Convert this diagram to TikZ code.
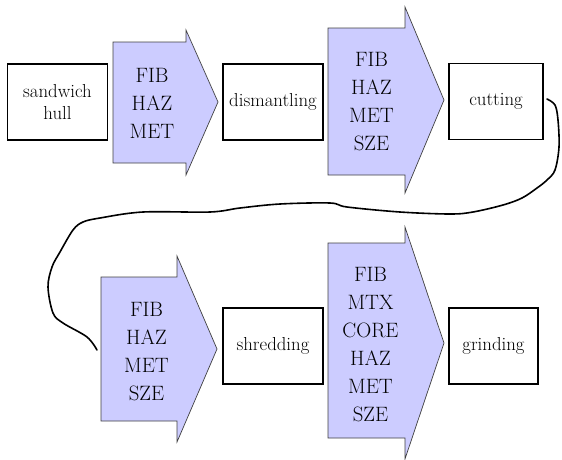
\documentclass[tikz,border=0pt]{standalone}
\usepackage{fix-cm}
\begin{document}
\begin{tikzpicture}[x=1pt,y=-1pt,
  procbox/.style={draw=black,line width=1.3pt,inner sep=0pt,font=\fontsize{18.8}{22.5}\selectfont,align=center,minimum height=76pt},
  flowarrow/.style={fill={rgb,255:red,204;green,204;blue,255},draw=black!75,line width=0.7pt,line join=miter},
  flowlabel/.style={font=\fontsize{20.8}{28}\selectfont,align=center,inner sep=0pt},
  loopline/.style={line width=1.6pt,line cap=round,line join=round}]
\useasboundingbox (0,0) rectangle (562,459);
% boxes
\node[procbox,minimum width=100pt] (hull) at (57.5,102) {sandwich\\hull};
\node[procbox,minimum width=100pt] (dism) at (273,102) {dismantling};
\node[procbox,minimum width=94pt] (cut) at (496,101.5) {cutting};
\node[procbox,minimum width=100pt] (shred) at (273,346) {shredding};
\node[procbox,minimum width=89pt] (grind) at (493.5,346) {grinding};
% arrows
\draw[flowarrow] (113,42) -- (186,42) -- (186,30) -- (218,102) -- (186,175) -- (186,163) -- (113,163) -- cycle;
\node[flowlabel] (a1) at (152,103) {FIB\\HAZ\\MET};
\draw[flowarrow] (328,28) -- (405,28) -- (405,7) -- (444,100) -- (405,193) -- (405,175) -- (328,175) -- cycle;
\node[flowlabel] (a2) at (371.5,102) {FIB\\HAZ\\MET\\SZE};
\draw[flowarrow] (101,277) -- (177,277) -- (177,256) -- (217,349) -- (177,442) -- (177,421) -- (101,421) -- cycle;
\node[flowlabel] (a3) at (146.5,351.5) {FIB\\HAZ\\MET\\SZE};
\draw[flowarrow] (328,243) -- (405,243) -- (405,227) -- (444,343) -- (405,459) -- (405,438) -- (328,438) -- cycle;
\node[flowlabel] (a4) at (370.5,345) {FIB\\MTX\\CORE\\HAZ\\MET\\SZE};
% loop connector
\coordinate (ls) at (547,99);
\coordinate (le) at (97,350);
\draw[loopline] plot[smooth,tension=0.55] coordinates {(ls) (555,105) (558,120) (559,147) (555,170) (547,180) (537,188) (522,198) (503,205) (473,212) (450,214) (400,212) (347,207) (330,203) (280,204) (240,208) (210,212) (143,212) (100,218) (83,222) (73,230) (60,252) (52,267) (48,287) (53,313) (63,323) (87,337) (le)};
\end{tikzpicture}
\end{document}
